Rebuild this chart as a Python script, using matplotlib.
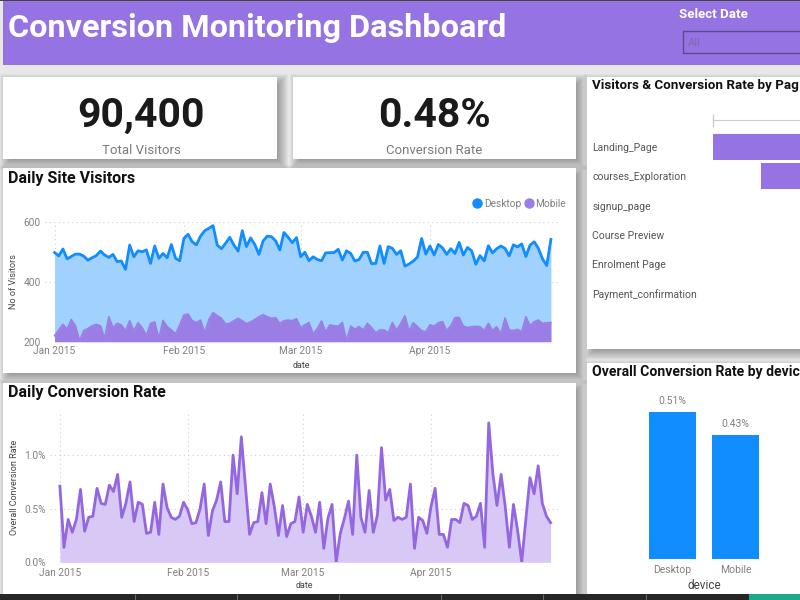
import numpy as np
import pandas as pd
import matplotlib
matplotlib.use("Agg")
import matplotlib.pyplot as plt
import matplotlib.dates as mdates
from matplotlib.lines import Line2D
from matplotlib.patches import Rectangle

plt.rcParams['font.family'] = ['Roboto', 'DejaVu Sans']

dates = pd.date_range("2015-01-01", "2015-04-30", freq="D")

desktop = [497, 486, 509, 476, 484, 492, 492, 485, 472, 480, 487, 502, 489, 481, 491, 467, 469, 441, 522, 483,
           503, 500, 506, 461, 519, 478, 494, 480, 524, 478, 470, 544, 558, 533, 523, 552, 570, 578, 587, 522,
           510, 528, 548, 522, 502, 570, 517, 546, 524, 491, 536, 552, 550, 536, 506, 564, 548, 530, 547,
           483, 498, 470, 483, 474, 470, 496, 497, 497, 508, 472, 503, 494, 469, 474, 498, 498, 460, 461, 519,
           461, 517, 511, 491, 503, 452, 459, 469, 482, 544, 492, 519, 489, 524, 513, 491, 510, 494, 531, 489,
           514, 503, 458, 487, 469, 520, 496, 510, 519, 511, 486, 523, 516, 526, 484, 522, 533, 511, 476, 454, 541]

mobile = [220, 239, 258, 242, 274, 253, 203, 237, 244, 253, 258, 253, 211, 283, 247, 261, 256, 236, 270, 236,
          263, 247, 220, 261, 266, 211, 271, 250, 239, 226, 256, 289, 292, 270, 264, 272, 230, 274, 297, 287,
          278, 259, 261, 270, 278, 270, 260, 266, 274, 283, 290, 283, 278, 280, 261, 270, 272, 270, 277,
          247, 256, 264, 226, 244, 269, 233, 256, 253, 252, 264, 203, 252, 242, 250, 239, 261, 247, 230, 239,
          239, 230, 264, 239, 261, 286, 236, 263, 250, 237, 233, 256, 252, 263, 267, 237, 253, 280, 281, 252,
          247, 250, 251, 250, 237, 261, 237, 250, 226, 279, 239, 237, 241, 233, 283, 253, 267, 272, 261, 263, 264]

conv_rate = [0.71, 0.14, 0.40, 0.28, 0.40, 0.68, 0.29, 0.42, 0.43, 0.69, 0.55, 0.54, 0.72, 0.66, 0.82, 0.42, 0.55, 0.75, 0.38, 0.56,
             0.54, 0.27, 0.28, 0.56, 0.26, 0.73, 0.51, 0.42, 0.40, 0.43, 0.56, 0.49, 0.36, 0.37, 0.50, 0.73, 0.25, 0.48, 0.58, 0.75,
             0.38, 0.38, 1.00, 0.64, 1.17, 0.71, 0.26, 0.37, 0.38, 0.65, 0.36, 0.73, 0.52, 0.25, 0.53, 0.24, 0.36, 0.38, 0.61,
             0.28, 0.54, 0.43, 0.28, 0.56, 0.13, 0.41, 0.54, 0.00, 0.27, 0.41, 0.57, 0.26, 1.00, 0.42, 0.28, 0.67, 0.28, 0.44, 1.07,
             0.58, 0.68, 0.39, 0.42, 0.40, 0.42, 0.73, 0.13, 0.42, 0.39, 0.27, 0.52, 0.69, 0.26, 0.26, 0.14, 0.40, 0.40, 0.37, 0.55,
             0.53, 0.40, 0.43, 0.55, 0.14, 1.30, 0.83, 0.53, 0.82, 0.52, 0.14, 0.54, 0.30, 0.00, 0.40, 0.79, 0.64, 0.90, 0.55, 0.43, 0.37]

pages = ["Landing_Page", "courses_Exploration", "signup_page", "Course Preview", "Enrolment Page", "Payment_confirmation"]
page_visitors = [90400, 75300]

devices = ["Desktop", "Mobile"]
device_rate = [0.51, 0.43]

PURPLE = "#9673E3"
BLUE = "#118DFF"
GREY = "#808080"
W, H = 800, 600

fig = plt.figure(figsize=(8, 6), dpi=100, facecolor="#e8e8e8")


def px_axes(left, top, right, bottom, **kw):
    # axes from pixel box, y measured from the top
    return fig.add_axes([left / W, 1 - bottom / H, (right - left) / W, (bottom - top) / H], **kw)


# page background in pixel coordinates
bg = px_axes(0, 0, W, H)
bg.set_xlim(0, W)
bg.set_ylim(H, 0)
bg.axis("off")

cards = [(3, 77, 277, 159), (293, 77, 576, 159), (3, 168, 576, 373),
         (3, 383, 576, 594), (587, 77, 815, 349), (587, 363, 815, 594)]

# soft shadow first, stacked see-through boxes
for x0, y0, x1, y1 in cards:
    for e in range(-4, 8):
        bg.add_patch(Rectangle((x0 + 4 - e, y0 + 4 - e), x1 - x0 + 2 * e, y1 - y0 + 2 * e,
                               fc="black", ec="none", alpha=0.03))
for x0, y0, x1, y1 in cards:
    bg.add_patch(Rectangle((x0, y0), x1 - x0, y1 - y0, fc="white", ec="none"))

bg.add_patch(Rectangle((3, 0), W, 65, fc=PURPLE, ec="none"))
bg.add_patch(Rectangle((0, 0), W, 1, fc="#444444", ec="none"))
bg.text(8, 28, "Conversion Monitoring Dashboard", color="white", fontsize=23.3, fontweight="bold", va="center")
bg.text(679, 15, "Select Date", color="white", fontsize=9.5, fontweight="bold", va="center")
bg.add_patch(Rectangle((683, 31), 130, 22, fc="none", ec="#5a4a90", lw=1))
bg.text(688, 43.5, "All", color="#7d6aa8", fontsize=8, va="center")

bg.text(141, 116, "90,400", color="#1a1a1a", fontsize=29.5, fontweight="bold", ha="center", va="center")
bg.text(141, 151, "Total Visitors", color="#7a7a7a", fontsize=9.5, ha="center", va="center")
bg.text(434, 116, "0.48%", color="#1a1a1a", fontsize=29.5, fontweight="bold", ha="center", va="center")
bg.text(434, 151, "Conversion Rate", color="#7a7a7a", fontsize=9.5, ha="center", va="center")

bg.text(8, 178, "Daily Site Visitors", color="#111111", fontsize=11.5, fontweight="bold", va="center")
bg.text(8, 392, "Daily Conversion Rate", color="#111111", fontsize=11.5, fontweight="bold", va="center")
bg.text(592, 86, "Visitors & Conversion Rate by Pag", color="#111111", fontsize=9.65, fontweight="bold", va="center")
bg.text(592, 372, "Overall Conversion Rate by devic", color="#111111", fontsize=10.1, fontweight="bold", va="center")

# task bar at the bottom
bg.add_patch(Rectangle((0, 594), W, 6, fc="#262626", ec="none"))
bg.add_patch(Rectangle((749, 594), 51, 6, fc="#1ba98c", ec="none"))
bg.vlines([135, 237, 339, 441, 543, 646], 594, 600, color="#666666", lw=0.8)

month_ticks = pd.to_datetime(["2015-01-01", "2015-02-01", "2015-03-01", "2015-04-01"])


def style_time_axes(ax):
    ax.patch.set_alpha(0)
    for s in ax.spines.values():
        s.set_visible(False)
    ax.grid(True, color="#cfcfcf", linestyle=(0, (1, 3)), linewidth=0.8)
    ax.set_axisbelow(True)
    ax.set_xticks(month_ticks)
    ax.xaxis.set_major_formatter(mdates.DateFormatter("%b %Y"))
    ax.tick_params(length=0, labelsize=7.3, labelcolor=GREY, pad=3)


# daily site visitors
ax1 = px_axes(45, 221.7, 558, 341.7)
ax1.fill_between(dates, desktop, 200, color="#A0D1FF", lw=0)
ax1.plot(dates, desktop, color=BLUE, lw=2, solid_joinstyle="round")
ax1.fill_between(dates, mobile, 200, color="#9A7EE6", lw=0)
ax1.plot(dates, mobile, color="#9A7EE6", lw=1.2)
ax1.set_ylim(200, 600)
ax1.set_yticks([200, 400, 600])
ax1.set_xlim(dates[0] - pd.Timedelta(days=2.3), dates[-1] + pd.Timedelta(days=1.7))
style_time_axes(ax1)
ax1.set_xlabel("date", fontsize=6.5, color="#444444", labelpad=3.5)
ax1.set_ylabel("No of Visitors", fontsize=6.5, color="#444444", labelpad=4)
handles = [Line2D([], [], color=BLUE, marker="o", ms=6.5, ls=""),
           Line2D([], [], color="#9A7EE6", marker="o", ms=6.5, ls="")]
ax1.legend(handles, devices, loc="lower right", bbox_to_anchor=(1.02, 1.09), ncol=2, frameon=False, fontsize=7.3,
           labelcolor=GREY, handlelength=0.8, handletextpad=0.3, columnspacing=0.3, borderaxespad=0, borderpad=0.2)

# daily conversion rate
ax2 = px_axes(50, 413.3, 558, 562.3)
ax2.fill_between(dates, conv_rate, 0, color="#D8C8F5", lw=0)
ax2.plot(dates, conv_rate, color="#9467E0", lw=2)
ax2.set_ylim(0, 1.39)
ax2.set_yticks([0, 0.5, 1.0])
ax2.set_yticklabels(["0.0%", "0.5%", "1.0%"])
ax2.set_xlim(dates[0] - pd.Timedelta(days=2.4), dates[-1] + pd.Timedelta(days=1.8))
style_time_axes(ax2)
ax2.tick_params(axis="x", pad=4)
ax2.set_xlabel("date", fontsize=6.5, color="#444444", labelpad=2.5)
ax2.set_ylabel("Overall Conversion Rate", fontsize=6.5, color="#444444", labelpad=4)

# funnel, only its left part fits on the page
ax3 = px_axes(713, 120, W, 310)
ax3.patch.set_alpha(0)
rows = np.arange(len(page_visitors))
centre = max(page_visitors) / 2
ax3.barh(rows, page_visitors, left=[centre - v / 2 for v in page_visitors], height=0.88, color=PURPLE)
ax3.set_xlim(0, 13700)
ax3.set_ylim(5.55, -0.92)
ax3.set_yticks(np.arange(len(pages)))
ax3.set_yticklabels(pages, ha="left")
ax3.tick_params(axis="y", length=0, pad=87, labelsize=7.5, labelcolor="#555555")
ax3.set_xticks([])
for s in ["left", "right", "bottom"]:
    ax3.spines[s].set_visible(False)
ax3.spines["top"].set_color("#cccccc")
bg.vlines(713, 114, 127, color="#cccccc", lw=1)

# conversion by device
ax4 = px_axes(641, 386, 767, 559)
ax4.patch.set_alpha(0)
bars = ax4.bar(devices, device_rate, width=0.75, color=BLUE)
ax4.bar_label(bars, labels=["%.2f%%" % v for v in device_rate], fontsize=7.5, color=GREY, padding=4)
ax4.set_xlim(-0.5, 1.5)
ax4.set_ylim(0, 0.6)
ax4.set_yticks([])
for s in ax4.spines.values():
    s.set_visible(False)
ax4.tick_params(axis="x", length=0, labelsize=7.5, labelcolor=GREY, pad=4)
ax4.set_xlabel("device", fontsize=8.5, color="#444444", labelpad=3)

fig.savefig("out.png", dpi=100, facecolor=fig.get_facecolor())
